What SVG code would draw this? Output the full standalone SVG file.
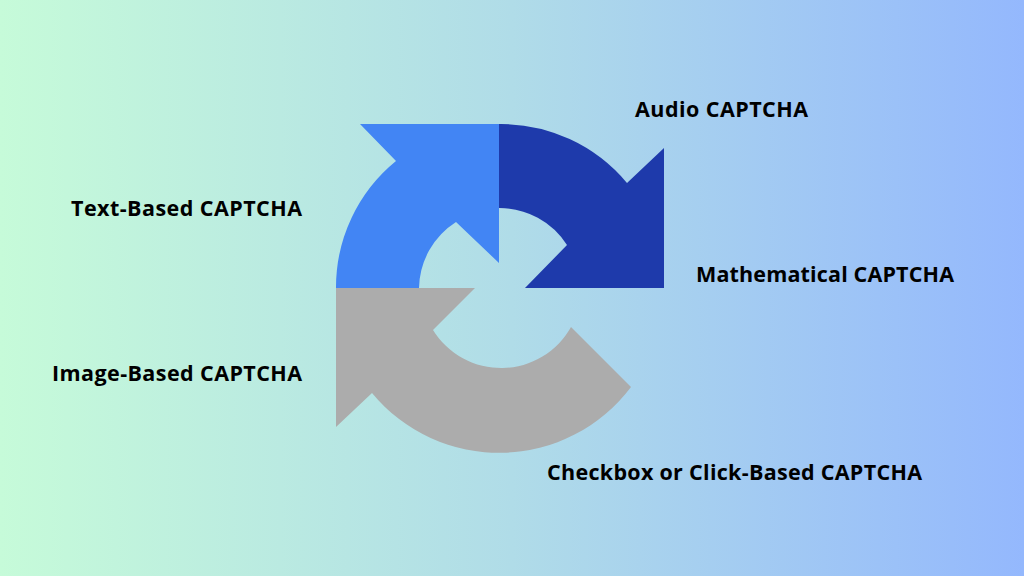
<svg xmlns="http://www.w3.org/2000/svg" width="1024" height="576" viewBox="0 0 1024 576">
<defs>
<linearGradient id="bg" x1="0" y1="0" x2="1" y2="0">
<stop offset="0" stop-color="#c6fbd9"/>
<stop offset="0.5" stop-color="#b0dce8"/>
<stop offset="1" stop-color="#94b8fd"/>
</linearGradient>
<style>
text{font-family:"Open Sans","Liberation Sans",sans-serif;font-weight:700;font-size:21.5px;fill:#000}
</style>
</defs>
<rect width="1024" height="576" fill="url(#bg)"/>
<g id="arrow-lightblue"><path fill="#4285f4" d="M360 124 L396 161 A163 163 0 0 0 336 288 L419 288 A80 80 0 0 1 456 222 L499 263 L499 124 Z"/></g>
<g id="arrow-darkblue"><path fill="#1e3aab" d="M499 124 A164 164 0 0 1 627 183 L664 148 L664 288 L525 288 L567 245 A80 80 0 0 0 499 208 Z"/></g>
<g id="arrow-grey"><path fill="#acacac" d="M336 288 L475 288 L433 330 A80 80 0 0 0 571 327 L631 387 A165 165 0 0 1 372 393 L336 427 Z"/></g>
<g id="connectors"></g>
<g id="labels">
<text x="635" y="117" textLength="173">Audio CAPTCHA</text>
<text x="71" y="216" textLength="231">Text-Based CAPTCHA</text>
<text x="696" y="282" textLength="258">Mathematical CAPTCHA</text>
<text x="52" y="381" textLength="250">Image-Based CAPTCHA</text>
<text x="547" y="480" textLength="375">Checkbox or Click-Based CAPTCHA</text>
</g>
</svg>
